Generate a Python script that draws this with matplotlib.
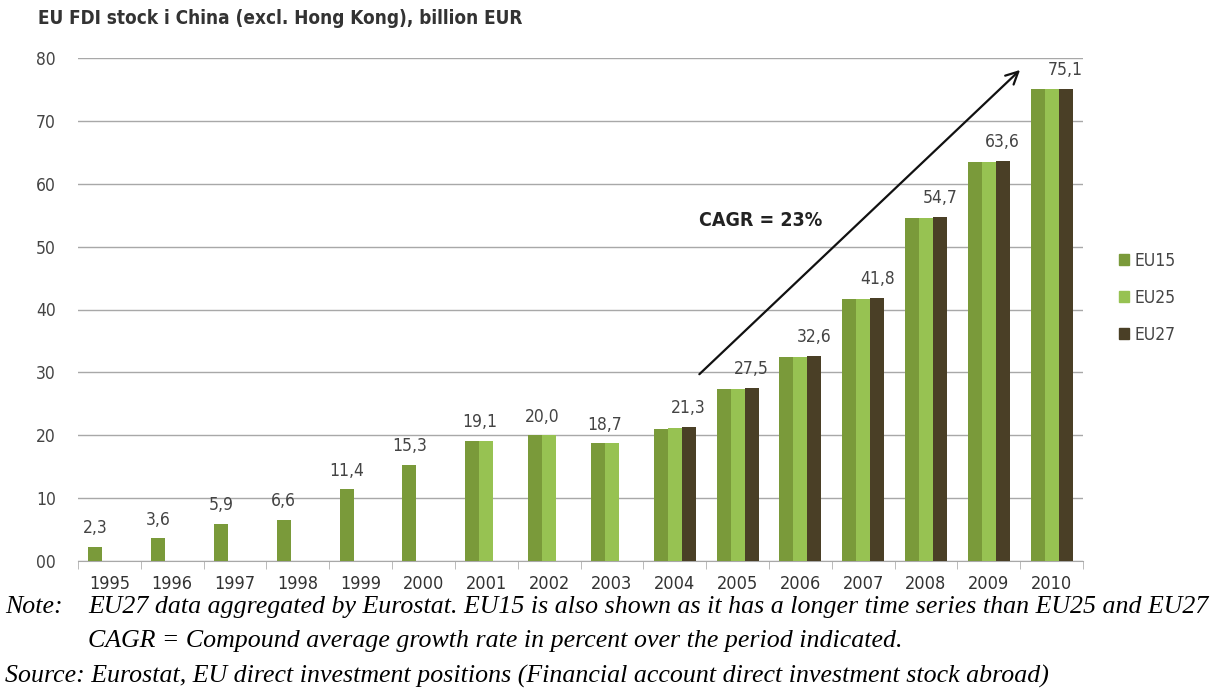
import numpy as np
import matplotlib.pyplot as plt
from matplotlib.patches import Patch

years = ['1995', '1996', '1997', '1998', '1999', '2000', '2001', '2002',
         '2003', '2004', '2005', '2006', '2007', '2008', '2009', '2010']
eu15 = [2.3, 3.6, 5.9, 6.6, 11.4, 15.3, 19.1, 20.0, 18.7, 21.0, 27.3, 32.4, 41.6, 54.5, 63.4, 75.0]
eu25_years = years[6:]
eu25 = [19.1, 20.0, 18.7, 21.1, 27.4, 32.5, 41.7, 54.6, 63.5, 75.0]
eu27_years = years[9:]
eu27 = [21.3, 27.5, 32.6, 41.8, 54.7, 63.6, 75.1]
labels = ['2,3', '3,6', '5,9', '6,6', '11,4', '15,3', '19,1', '20,0', '18,7',
          '21,3', '27,5', '32,6', '41,8', '54,7', '63,6', '75,1']
yticks = [0, 10, 20, 30, 40, 50, 60, 70, 80]
ytick_labels = ['00', '10', '20', '30', '40', '50', '60', '70', '80']

c15 = '#7a9a3a'
c25 = '#97c252'
c27 = '#4a3f26'
txt = '#444444'
plt.rcParams['font.stretch'] = 'condensed'
sans = ['DejaVu Sans']
serif = ['Liberation Serif', 'DejaVu Serif']

W, H = 1214, 695
fig = plt.figure(figsize=(W / 100, H / 100), dpi=100)
ax = fig.add_axes([78 / W, 1 - 561 / H, (1083 - 78) / W, (561 - 58) / H])

w = 0.223
x = np.arange(len(years))
i25 = np.array([years.index(y) for y in eu25_years])
i27 = np.array([years.index(y) for y in eu27_years])

ax.bar(x - w, eu15, w, color=c15, label='EU15', zorder=3)
ax.bar(i25, eu25, w, color=c25, label='EU25', zorder=3)
ax.bar(i27 + w, eu27, w, color=c27, label='EU27', zorder=3)

# value labels: over the rightmost series that exists for the year
for i, lab in enumerate(labels):
    if i in i27:
        xp, v = i + w, eu27[list(i27).index(i)]
    elif i in i25:
        xp, v = i - w / 2, max(eu15[i], eu25[list(i25).index(i)])
    else:
        xp, v = i - w, eu15[i]
    ax.annotate(lab, (xp, v), xytext=(0, 7), textcoords='offset points',
                ha='center', va='bottom', fontsize=12.5, color=txt,
                family=sans, stretch='condensed')

ax.set_xlim(-0.5, len(years) - 0.5)
ax.set_ylim(0, 80)
ax.set_yticks(yticks)
ax.set_yticklabels(ytick_labels, family=sans, fontsize=12.5, color=txt,
                   stretch='condensed')
ax.set_xticks(x)
ax.set_xticklabels(years, family=sans, fontsize=13, color='#333333',
                   stretch='condensed')
ax.set_xticks(np.arange(-0.5, len(years)), minor=True)
ax.tick_params(axis='y', length=0, pad=16)
ax.tick_params(axis='x', which='major', length=0, pad=10)
ax.tick_params(axis='x', which='minor', length=6, color='#b0b0b0')
ax.grid(axis='y', color='#a8a8a8', linewidth=1, zorder=0)
for s in ['top', 'right', 'left']:
    ax.spines[s].set_visible(False)
ax.spines['bottom'].set_color('#a8a8a8')

# CAGR arrow
ax.annotate('', xy=(14.53, 78.4), xytext=(9.36, 29.4),
            arrowprops=dict(arrowstyle='->', color='#111111', lw=1.6,
                            mutation_scale=22))
ax.text(10.37, 54.2, 'CAGR = 23%', ha='center', va='center', fontsize=14,
        fontweight='bold', color='#222222', family=sans, stretch='condensed')

handles = [Patch(color=c15), Patch(color=c25), Patch(color=c27)]
fig.legend(handles, ['EU15', 'EU25', 'EU27'], loc='center left',
           bbox_to_anchor=(1103 / W, 1 - 298 / H), frameon=False,
           handlelength=0.6, handleheight=0.6, handletextpad=0.3,
           labelspacing=1.1,
           prop={'family': sans, 'size': 12.5, 'stretch': 'condensed'},
           labelcolor=txt)

fig.text(38 / W, 1 - 19 / H, 'EU FDI stock i China (excl. Hong Kong), billion EUR',
         ha='left', va='center', fontsize=13.6, fontweight='bold', color='#333333',
         family=sans, stretch='condensed')

fig.text(5 / W, 1 - 607 / H, 'Note:', ha='left', va='center', fontsize=18.6,
         style='italic', family=serif)
fig.text(88 / W, 1 - 607 / H,
         'EU27 data aggregated by Eurostat. EU15 is also shown as it has a longer '
         'time series than EU25 and EU27',
         ha='left', va='center', fontsize=18.6, style='italic', family=serif)
fig.text(88 / W, 1 - 641 / H,
         'CAGR = Compound average growth rate in percent over the period indicated.',
         ha='left', va='center', fontsize=18.6, style='italic', family=serif)
fig.text(5 / W, 1 - 676 / H,
         'Source: Eurostat, EU direct investment positions (Financial account '
         'direct investment stock abroad)',
         ha='left', va='center', fontsize=18.6, style='italic', family=serif)

fig.savefig('out.png', dpi=100, facecolor='white')
